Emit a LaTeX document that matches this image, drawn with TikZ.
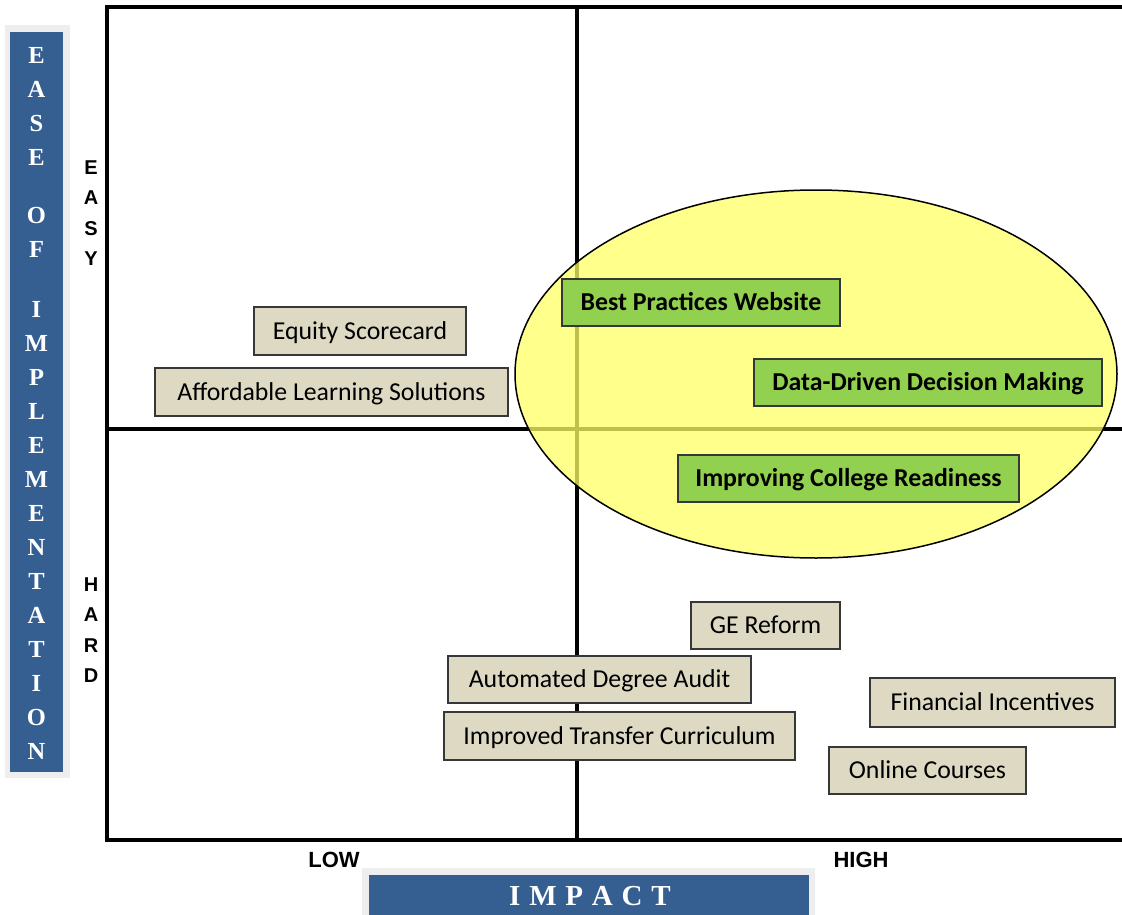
\documentclass[tikz,border=0pt]{standalone}
\usepackage{fontspec}
\setmainfont{Carlito}
\newfontfamily\capsfont{Liberation Sans}
\newfontfamily\titlefont{Liberation Serif}
\definecolor{barblue}{RGB}{54,95,145}
\definecolor{barrim}{RGB}{238,238,238}
\definecolor{tanfill}{RGB}{221,217,195}
\definecolor{greenfill}{RGB}{146,208,80}
\definecolor{boxline}{RGB}{55,55,55}
\definecolor{zonefill}{RGB}{255,255,102}
\begin{document}
\begin{tikzpicture}[x=1pt,y=-1pt,
  item/.style={draw=boxline, line width=1.4pt, inner sep=0pt, text=black,
    text height=16.4pt, text depth=0pt,
    font=\fontsize{25.8}{30}\selectfont},
  tanbox/.style={item, fill=tanfill},
  greenbox/.style={item, fill=greenfill, font=\bfseries\fontsize{25.8}{30}\selectfont},
  axisline/.style={line width=3.5pt, line join=miter},
  scalelabel/.style={inner sep=0pt, align=center, font=\capsfont\bfseries\fontsize{20}{30.5}\selectfont},
  endlabel/.style={inner sep=0pt, font=\capsfont\bfseries\fontsize{22}{26}\selectfont},
  bartitle/.style={inner sep=0pt, text=white, font=\titlefont\bfseries}]
\useasboundingbox (0,0) rectangle (1122,915);

% axis title bars
\fill[barrim] (5,25) rectangle (70,778);
\fill[barblue] (10,32) rectangle (63,772);
\node[bartitle, align=center, anchor=north, font=\titlefont\bfseries\fontsize{24.5}{34}\selectfont]
  (easeTitle) at (36.5,47.5)
  {E\\A\\S\\E\\[24pt]O\\F\\[26pt]I\\M\\P\\L\\E\\M\\E\\N\\T\\A\\T\\I\\O\\N};

\fill[barrim] (362,868) rectangle (815,915);
\fill[barblue] (369,875) rectangle (809,915);
\node[bartitle, font=\titlefont\bfseries\fontsize{29}{32}\selectfont] (impactTitle) at (590,896)
  {I\hspace{8.8pt}M\hspace{8.8pt}P\hspace{8.8pt}A\hspace{8.8pt}C\hspace{8.8pt}T};

% scale labels
\node[scalelabel] (easy) at (91,213) {E\\A\\S\\Y};
\node[scalelabel] (hard) at (91,630) {H\\A\\R\\D};
\node[endlabel] (low) at (334,860) {LOW};
\node[endlabel] (high) at (861,860) {HIGH};

% quadrant frame
\draw[axisline] (1122,7) -- (107,7) -- (107,840) -- (1122,840);
\draw[axisline] (577,7) -- (577,840);
\draw[axisline] (107,429) -- (1122,429);

% highlighted zone
\draw[line width=1.5pt, fill=zonefill, fill opacity=0.75] (816,374) ellipse [x radius=301pt, y radius=184pt];

% initiatives
\node[tanbox, minimum width=212pt, minimum height=48pt] (equity) at (360,331) {Equity Scorecard};
\node[tanbox, minimum width=353pt, minimum height=48pt] (afford) at (331.5,392) {Affordable Learning Solutions};
\node[greenbox, minimum width=278pt, minimum height=47pt] (best) at (701,302.5) {Best Practices Website};
\node[greenbox, minimum width=348pt, minimum height=47pt] (data) at (928,382.5) {Data-Driven Decision Making};
\node[greenbox, minimum width=341pt, minimum height=47pt] (ready) at (848.5,478.5) {Improving College Readiness};
\node[tanbox, minimum width=149pt, minimum height=47pt] (ge) at (765.5,625.5) {GE Reform};
\node[tanbox, minimum width=303pt, minimum height=47pt] (audit) at (599.5,679.5) {Automated Degree Audit};
\node[tanbox, minimum width=351pt, minimum height=48pt] (transfer) at (619.5,736) {Improved Transfer Curriculum};
\node[tanbox, minimum width=245pt, minimum height=49pt] (finance) at (992.5,702.5) {Financial Incentives};
\node[tanbox, minimum width=197pt, minimum height=47pt] (online) at (927.5,770.5) {Online Courses};
\end{tikzpicture}
\end{document}
